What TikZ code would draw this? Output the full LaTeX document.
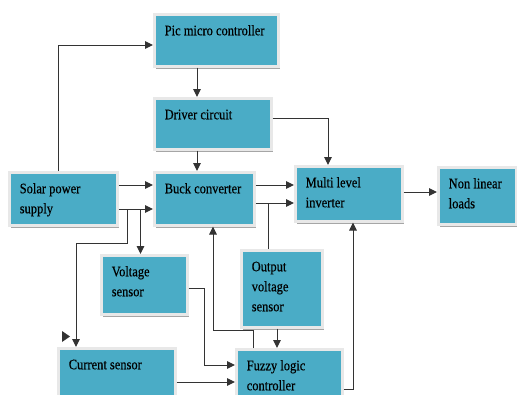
\documentclass[tikz,border=0pt]{standalone}
\usepackage{fontspec}
\setmainfont{Liberation Serif}[FakeStretch=0.86,FakeBold=0.4]
\usetikzlibrary{arrows.meta,calc,shadows}
\definecolor{boxfill}{HTML}{4AACC6}
\definecolor{lncol}{HTML}{333333}
\newcommand\bt[3]{\parbox[c][#2][t]{#1}{\raggedright\leftskip=10.5pt\fontsize{14.5}{20}\selectfont\rule{0pt}{21pt}#3}}
\tikzset{
  blk/.style={anchor=north west, inner sep=0pt, fill=boxfill, draw=black!9, line width=2.5pt,
    drop shadow={shadow xshift=2pt, shadow yshift=-2.5pt, fill=black!35, opacity=1}},
  ln/.style={draw=lncol, line width=1pt},
  arr/.style={ln, -{Triangle[length=8pt,width=7.5pt]}}
}
\begin{document}
\begin{tikzpicture}[x=1pt,y=-1pt]
\clip (0,0) rectangle (517,394);
\fill[white] (0,0) rectangle (517,394);
% boxes
\node[blk] (pic) at (153,13) {\bt{124pt}{52pt}{Pic micro controller}};
\node[blk] (driver) at (153,97) {\bt{117pt}{51pt}{Driver circuit}};
\node[blk] (buck) at (153,171) {\bt{100pt}{53pt}{Buck converter}};
\node[blk] (solar) at (8,171) {\bt{108pt}{53pt}{Solar power\\supply}};
\node[blk] (multi) at (294,165) {\bt{107pt}{55pt}{Multi level\\inverter}};
\node[blk] (loads) at (437,166) {\bt{78pt}{57pt}{Non linear\\loads}};
\node[blk] (voltage) at (100,254) {\bt{86pt}{59pt}{Voltage\\sensor}};
\node[blk] (outv) at (240,249) {\bt{81pt}{77pt}{Output\\voltage\\sensor}};
\node[blk] (current) at (57,347) {\bt{117pt}{60pt}{Current sensor}};
\node[blk] (fuzzy) at (235,348) {\bt{106pt}{60pt}{Fuzzy logic\\controller}};
% connectors
\draw[arr] ($(solar.north west)+(50,0)$) |- ($(pic.north west)+(0,32)$);
\draw[arr] ($(pic.south west)+(44,0)$) -- ($(driver.north west)+(44,0)$);
\draw[arr] ($(driver.south west)+(44,0)$) -- ($(buck.north west)+(44,0)$);
\draw[arr] ($(driver.north east)+(0,21)$) -| ($(multi.north west)+(34,0)$);
\draw[arr] ($(solar.north east)+(0,14)$) -- ($(buck.north west)+(0,14)$);
\draw[arr] ($(solar.north east)+(0,38)$) -- ($(buck.north west)+(0,38)$);
\draw[arr] ($(solar.north east)+(9,38)$) -- ++(0,34) -| ($(current.north west)+(19,0)$);
\draw[arr] ($(solar.north east)+(22,38)$) -- ++(0,45);
\draw[arr] ($(buck.north east)+(0,14)$) -- ($(multi.north west)+(0,20)$);
\draw[arr] ($(buck.north east)+(0,32)$) -- ($(multi.north west)+(0,38)$);
\draw[ln] ($(outv.north west)+(28,0)$) -- ++(0,-46);
\draw[arr] ($(outv.south west)+(37,0)$) -- ($(fuzzy.north west)+(42,0)$);
\draw[arr] ($(voltage.north east)+(0,34)$) -- ++(16,0) |- ($(fuzzy.north west)+(0,17)$);
\draw[arr] ($(current.north east)+(0,35)$) -- ($(fuzzy.north west)+(0,34)$);
\draw[arr] ($(fuzzy.north west)+(18,0)$) -- ++(0,-18) -| ($(buck.south west)+(60,0)$);
\draw[arr] ($(fuzzy.north east)+(0,41)$) -| ($(multi.south west)+(59,0)$);
\draw[arr] ($(multi.north east)+(0,27)$) -- ($(loads.north west)+(0,26)$);
% stray arrowhead
\fill[lncol] (62,331) -- (70,336.5) -- (62,342) -- cycle;
\end{tikzpicture}
\end{document}
